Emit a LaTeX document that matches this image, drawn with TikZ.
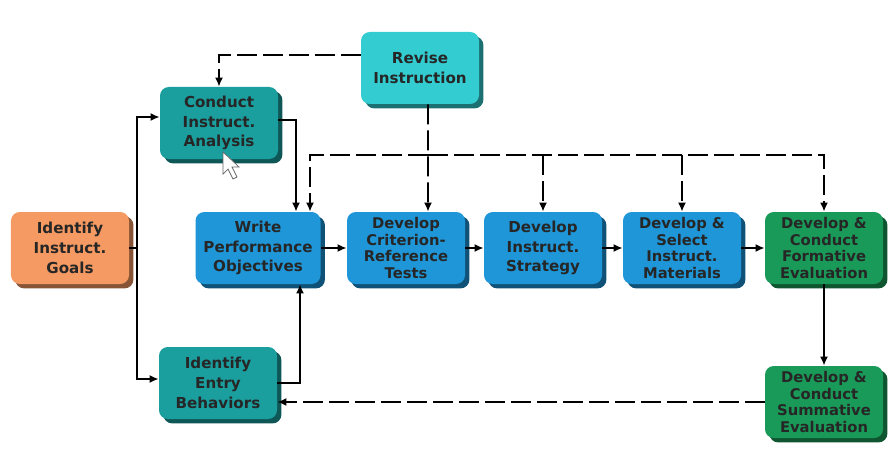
\documentclass[tikz,border=0pt]{standalone}
\usepackage{fontspec}
\newfontfamily\boxfont{DejaVu Sans}
\usetikzlibrary{arrows.meta,shadows}
\definecolor{goalcol}{HTML}{F59A62}
\definecolor{tealcol}{HTML}{1B9E9E}
\definecolor{revcol}{HTML}{33CCD0}
\definecolor{bluecol}{HTML}{1E96D8}
\definecolor{greencol}{HTML}{1A9A58}
\begin{document}
\begin{tikzpicture}[x=0.2mm,y=-0.2mm,
  stage/.style={fill=#1, rounded corners=5pt, align=center,
    minimum width=2.36cm, minimum height=1.44cm, inner sep=1pt,
    font=\boxfont\bfseries\fontsize{8.6}{11.2}\selectfont, text=black!85,
    drop shadow={shadow xshift=2.5pt, shadow yshift=-2.5pt, fill=#1!55!black, opacity=1}},
  fourline/.style={font=\boxfont\bfseries\fontsize{8.4}{9.6}\selectfont},
  flow/.style={line width=1.1pt, -{Latex[length=1.8mm,width=1.6mm]}},
  fb/.style={flow, dash pattern=on 4mm off 1.2mm}]
\useasboundingbox (0,0) rectangle (895,457);
\node (goals) at (70,248) [stage=goalcol] {Identify\\Instruct.\\Goals};
\node (conduct) at (219,123) [stage=tealcol] {Conduct\\Instruct.\\Analysis};
\node (revise) at (420,68) [stage=revcol] {Revise\\Instruction};
\node (wpo) at (258,248) [stage=bluecol, minimum width=2.5cm] {Write\\Performance\\Objectives};
\node (crit) at (406,248) [stage=bluecol, fourline] {Develop\\Criterion-\\Reference\\Tests};
\node (strat) at (543,248) [stage=bluecol] {Develop\\Instruct.\\Strategy};
\node (mat) at (682,248) [stage=bluecol, fourline] {Develop \&\\Select\\Instruct.\\Materials};
\node (form) at (824,248) [stage=greencol, fourline] {Develop \&\\Conduct\\Formative\\Evaluation};
\node (entry) at (218,383) [stage=tealcol] {Identify\\Entry\\Behaviors};
\node (summ) at (824,402) [stage=greencol, fourline] {Develop \&\\Conduct\\Summative\\Evaluation};
\coordinate (split) at (137,248);
\coordinate (bus) at (428,155);

\draw[line width=1.1pt] (goals.east) -- (split);
\draw[flow] (split) |- ([yshift=1.2mm]conduct.west);
\draw[flow] (split) |- ([yshift=0.8mm]entry.west);
\draw[flow] ([yshift=0.6mm]conduct.east) -| ([xshift=7.6mm]wpo.north);
\draw[flow] (entry.east) -| ([xshift=8.4mm]wpo.south);
\draw[flow] (wpo) -- (crit);
\draw[flow] (crit) -- (strat);
\draw[flow] (strat) -- (mat);
\draw[flow] (mat) -- (form);
\draw[flow] (form) -- (summ);
\draw[fb] ([yshift=2.6mm]revise.west) -| (conduct.north);
\draw[fb] ([xshift=1.6mm]revise.south) -- ([xshift=4.4mm]crit.north);
\draw[fb] (bus) -| ([xshift=10.4mm]wpo.north);
\draw[fb] (bus) -| (form.north);
\draw[fb] (bus -| strat.north) -- (strat.north);
\draw[fb] (bus -| mat.north) -- (mat.north);
\draw[fb] (summ.west) -- (summ.west -| entry.east);

\draw[fill=white, draw=black!60, line width=0.4pt]
  (223,152) -- (223,174) -- (228,169) -- (233,179) -- (237,177) -- (232,167) -- (239,167) -- cycle;
\end{tikzpicture}
\end{document}
